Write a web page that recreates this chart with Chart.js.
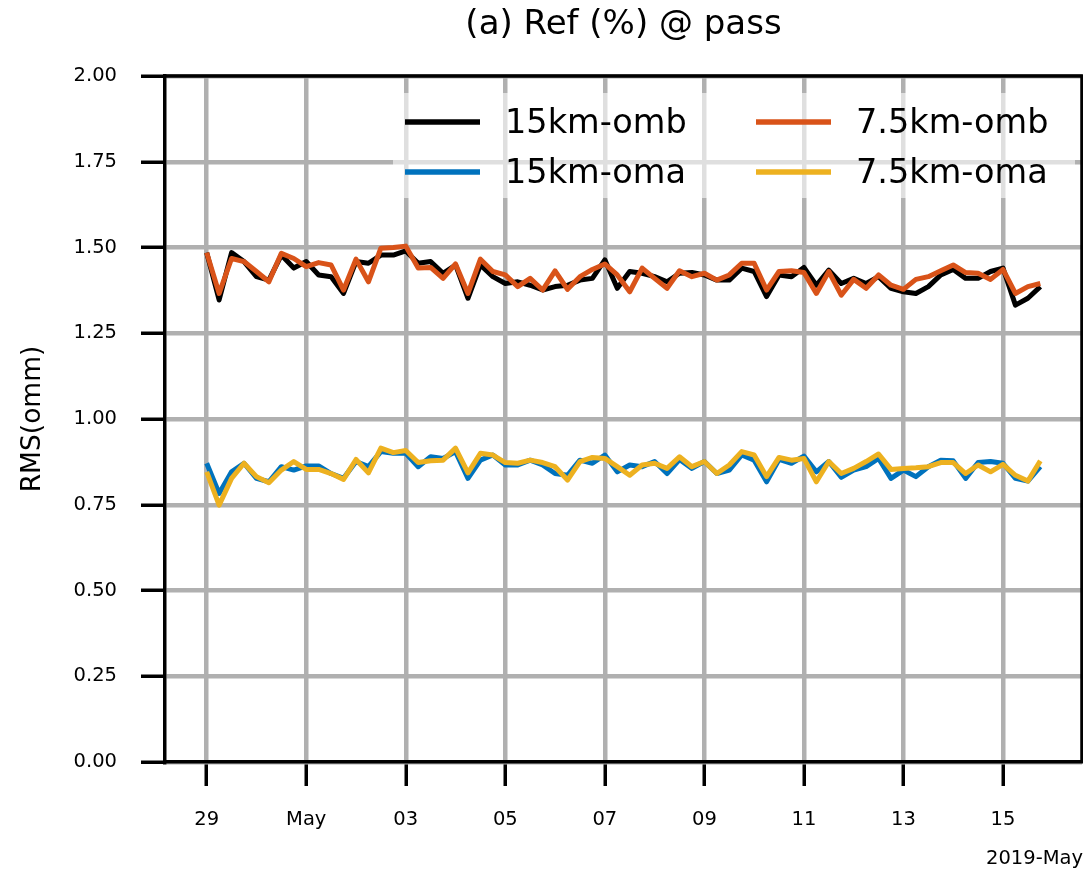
<!DOCTYPE html>
<html lang="en">
<head>
  <meta charset="UTF-8" />
  <title>Ref (%) @ pass</title>
  <script src="https://cdn.jsdelivr.net/npm/chart.js"></script>
  <style>
    body {
      margin: 0;
      padding: 0;
      background: #fff;
    }
    #wrap {
      width: 1083px;
      height: 872px;
    }
  </style>
</head>
<body>
  <div id="wrap">
    <canvas id="rmsChart" width="1083" height="872"></canvas>
  </div>

  <script>
    // hours after 2019-04-29 00Z, one value every 6 hours (29 Apr 00Z .. 15 May 18Z)
    const hours = Array.from({ length: 68 }, (_, i) => i * 6);

    // x ticks (hours) and their labels
    const tickHours = [0, 48, 96, 144, 192, 240, 288, 336, 384];
    const tickLabels = ['29', 'May', '03', '05', '07', '09', '11', '13', '15'];

    const yTicks = [0, 0.25, 0.5, 0.75, 1.0, 1.25, 1.5, 1.75, 2.0];

    const omb15 = [
      1.485, 1.347, 1.485, 1.459, 1.415, 1.405, 1.478, 1.440, 1.459, 1.420,
      1.415, 1.366, 1.459, 1.454, 1.478, 1.478, 1.490, 1.454, 1.459, 1.425,
      1.449, 1.352, 1.449, 1.415, 1.395, 1.400, 1.390, 1.376, 1.386, 1.390,
      1.405, 1.410, 1.464, 1.381, 1.430, 1.425, 1.415, 1.400, 1.425, 1.427,
      1.420, 1.405, 1.405, 1.440, 1.430, 1.357, 1.420, 1.415, 1.442, 1.390,
      1.434, 1.395, 1.410, 1.395, 1.415, 1.381, 1.371, 1.366, 1.386, 1.420,
      1.436, 1.410, 1.410, 1.430, 1.440, 1.332, 1.352, 1.386
    ];
    const oma15 = [
      0.871, 0.783, 0.846, 0.871, 0.827, 0.817, 0.861, 0.851, 0.863, 0.863,
      0.841, 0.827, 0.876, 0.861, 0.905, 0.900, 0.900, 0.861, 0.890, 0.885,
      0.905, 0.827, 0.880, 0.895, 0.866, 0.866, 0.880, 0.866, 0.841, 0.836,
      0.880, 0.871, 0.895, 0.846, 0.866, 0.861, 0.876, 0.841, 0.882, 0.856,
      0.876, 0.841, 0.851, 0.895, 0.880, 0.817, 0.882, 0.871, 0.892, 0.846,
      0.876, 0.830, 0.851, 0.861, 0.885, 0.827, 0.851, 0.832, 0.861, 0.880,
      0.878, 0.827, 0.873, 0.876, 0.871, 0.827, 0.819, 0.861
    ];
    const omb75 = [
      1.485, 1.366, 1.468, 1.459, 1.430, 1.400, 1.483, 1.468, 1.444, 1.456,
      1.449, 1.376, 1.466, 1.400, 1.498, 1.500, 1.504, 1.440, 1.442, 1.410,
      1.452, 1.366, 1.466, 1.430, 1.420, 1.386, 1.410, 1.376, 1.432, 1.378,
      1.415, 1.436, 1.452, 1.420, 1.371, 1.440, 1.410, 1.381, 1.432, 1.415,
      1.425, 1.405, 1.420, 1.454, 1.454, 1.376, 1.430, 1.432, 1.427, 1.366,
      1.430, 1.361, 1.407, 1.381, 1.420, 1.390, 1.378, 1.407, 1.415, 1.432,
      1.449, 1.427, 1.425, 1.407, 1.436, 1.366, 1.386, 1.395
    ];
    const oma75 = [
      0.846, 0.749, 0.827, 0.871, 0.832, 0.814, 0.851, 0.876, 0.853, 0.853,
      0.841, 0.824, 0.882, 0.843, 0.915, 0.902, 0.908, 0.873, 0.878, 0.880,
      0.915, 0.843, 0.900, 0.895, 0.873, 0.871, 0.880, 0.873, 0.861, 0.822,
      0.876, 0.888, 0.885, 0.861, 0.836, 0.866, 0.871, 0.856, 0.890, 0.861,
      0.876, 0.841, 0.866, 0.905, 0.895, 0.832, 0.888, 0.880, 0.885, 0.817,
      0.876, 0.841, 0.856, 0.876, 0.898, 0.853, 0.856, 0.858, 0.861, 0.873,
      0.873, 0.841, 0.866, 0.846, 0.868, 0.836, 0.819, 0.878
    ];

    const seriesNames = ['15km-omb', '15km-oma', '7.5km-omb', '7.5km-oma'];
    const seriesColors = ['#000000', '#0072BD', '#D95319', '#EDB120'];
    const seriesData = [omb15, oma15, omb75, oma75];

    Chart.defaults.font.family = "'DejaVu Sans', sans-serif";
    Chart.defaults.color = '#000';

    // title, y title, top/right spines, 2-column legend and the year label
    const decorations = {
      id: 'decorations',
      afterDraw(chart) {
        const ctx = chart.ctx;
        const area = chart.chartArea;
        ctx.save();

        // spines on top and right
        ctx.strokeStyle = '#000';
        ctx.lineWidth = 3.5;
        ctx.beginPath();
        ctx.moveTo(area.left - 1.5, area.top);
        ctx.lineTo(area.right + 2, area.top);
        ctx.moveTo(area.right, area.top);
        ctx.lineTo(area.right, area.bottom);
        ctx.stroke();

        // title
        ctx.fillStyle = '#000';
        ctx.font = "34px 'DejaVu Sans'";
        ctx.textAlign = 'center';
        ctx.textBaseline = 'middle';
        ctx.fillText('(a) Ref (%) @ pass', (area.left + area.right) / 2, 25);

        // y axis title
        ctx.save();
        ctx.translate(33, 419);
        ctx.rotate(-Math.PI / 2);
        ctx.font = "26.5px 'DejaVu Sans'";
        ctx.fillText('RMS(omm)', 0, 0);
        ctx.restore();

        // legend box
        ctx.fillStyle = 'rgba(255,255,255,0.6)';
        ctx.fillRect(393, 93, 682, 105);

        const cols = [405, 756];
        const rows = [122, 172];
        ctx.font = "33.5px 'DejaVu Sans'";
        ctx.textAlign = 'left';
        seriesNames.forEach((name, i) => {
          const x = cols[Math.floor(i / 2)];
          const y = rows[i % 2];
          ctx.strokeStyle = seriesColors[i];
          ctx.lineWidth = 5.5;
          ctx.beginPath();
          ctx.moveTo(x, y);
          ctx.lineTo(x + 75, y);
          ctx.stroke();
          ctx.fillStyle = '#000';
          ctx.fillText(name, x + 100, y + 2);
        });

        // year-month offset label
        ctx.font = "19.5px 'DejaVu Sans'";
        ctx.textAlign = 'right';
        ctx.fillText('2019-May', 1083, 859);

        ctx.restore();
      }
    };

    const gridStyle = {
      color: '#b0b0b0',
      lineWidth: 4.5,
      tickColor: '#000',
      tickWidth: 3.5,
      tickLength: 24
    };

    new Chart(document.getElementById('rmsChart'), {
      type: 'line',
      data: {
        datasets: seriesData.map((vals, i) => ({
          label: seriesNames[i],
          data: vals.map((v, j) => ({ x: hours[j], y: v })),
          borderColor: seriesColors[i],
          borderWidth: 5,
          pointRadius: 0,
          tension: 0,
          borderJoinStyle: 'round',
          fill: false,
          order: 4 - i
        }))
      },
      options: {
        responsive: false,
        animation: false,
        events: [],
        layout: { padding: { top: 76, right: 1, left: 0, bottom: 0 } },
        plugins: {
          legend: { display: false },
          tooltip: { enabled: false }
        },
        scales: {
          x: {
            type: 'linear',
            min: -20.1,
            max: 422.1,
            afterBuildTicks: (scale) => {
              scale.ticks = tickHours.map(v => ({ value: v }));
            },
            afterFit: (scale) => { scale.height = 110; },
            ticks: {
              autoSkip: false,
              maxRotation: 0,
              padding: 22,
              font: { size: 19.5 },
              callback: (v, i) => tickLabels[i]
            },
            grid: gridStyle,
            border: { display: true, color: '#000', width: 3.5 }
          },
          y: {
            min: 0,
            max: 2,
            afterBuildTicks: (scale) => {
              scale.ticks = yTicks.map(v => ({ value: v }));
            },
            afterFit: (scale) => { scale.width = 165; },
            ticks: {
              padding: 24,
              font: { size: 19.5 },
              callback: (v) => v.toFixed(2)
            },
            grid: gridStyle,
            border: { display: true, color: '#000', width: 3.5 }
          }
        }
      },
      plugins: [decorations]
    });
  </script>
</body>
</html>
